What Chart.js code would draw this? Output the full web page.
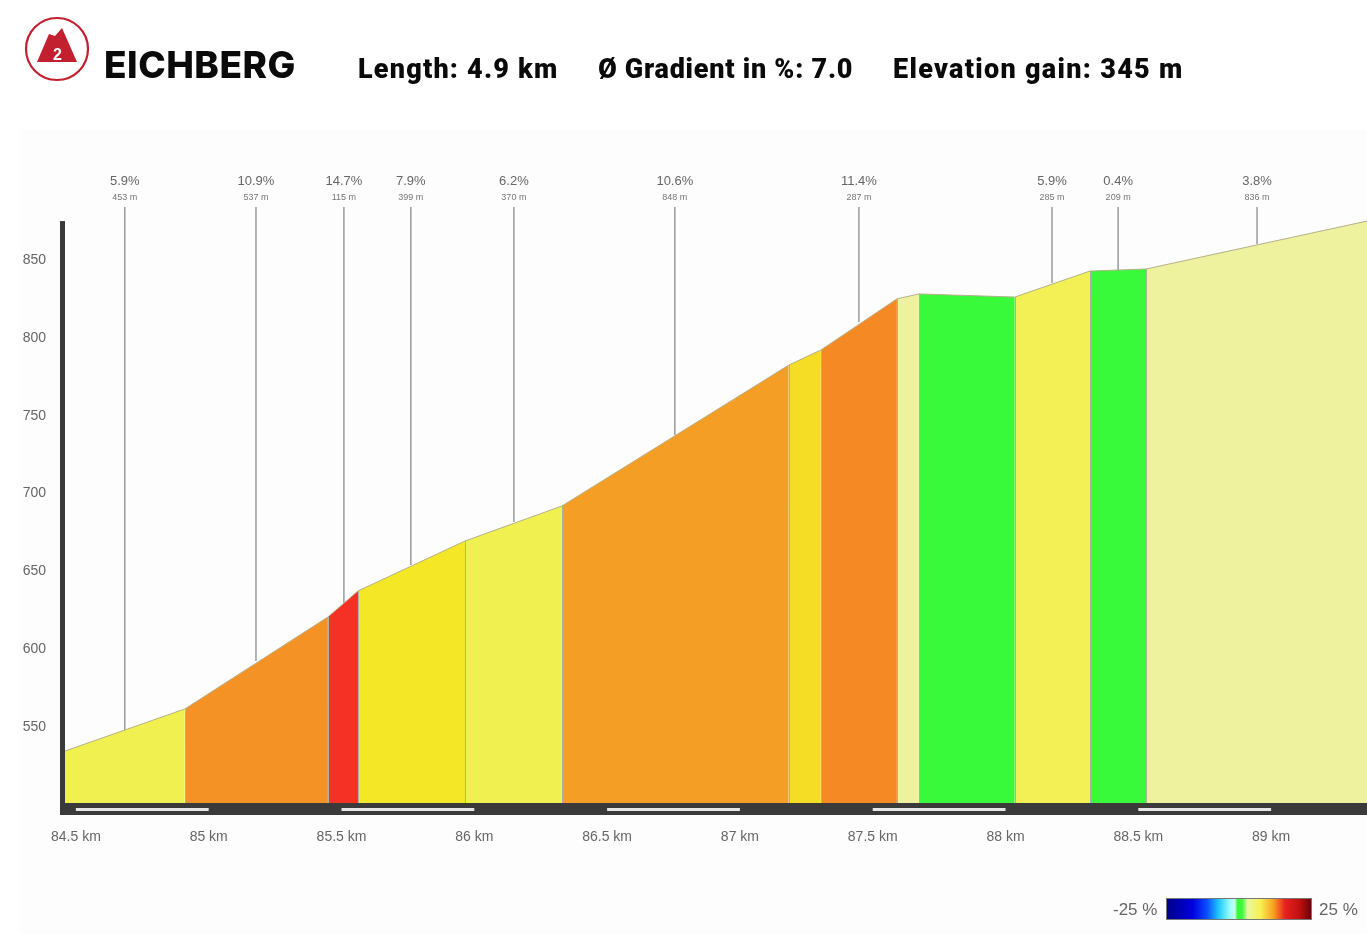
<!DOCTYPE html>
<html>
<head>
<meta charset="utf-8">
<title>Eichberg</title>
<script src="https://cdn.jsdelivr.net/npm/chart.js@4/dist/chart.umd.js"></script>
<style>
    html, body { margin: 0; padding: 0; background: #fff; }
    #page { position: relative; width: 1367px; height: 934px; overflow: hidden; }
    #panel { position: absolute; left: 20px; top: 130px; width: 1347px; height: 804px; background: #fdfdfd; }
    #chart { position: absolute; left: 0; top: 0; }
    .head { position: absolute; color: #0a0a0a; font-family: "Roboto", sans-serif; font-weight: 900; white-space: nowrap; }
    #title { left: 104px; top: 43px; font-size: 37px; line-height: 44px; font-family: "Inter", sans-serif; font-weight: 800; letter-spacing: 0.5px; }
    .stat { top: 52px; font-size: 27px; line-height: 34px; }
    #logo { position: absolute; left: 24px; top: 16px; }
    #scale { position: absolute; left: 1166px; top: 898px; width: 146px; height: 22px; box-sizing: border-box; border: 1px solid #777;
        background: linear-gradient(to right, #00008a 0%, #0000e0 18%, #0a50ff 28%, #20c8ff 36%, #a0ffff 44%, #c8fff0 47%, #38f93a 49%, #38f93a 52%, #e8f8a0 56%, #f8f050 65%, #f7a020 74%, #e82020 82%, #c01010 92%, #700008 100%); }
    .scale-label { position: absolute; top: 900px; font: 17px "Liberation Sans", sans-serif; color: #666; }
</style>
</head>
<body>
<div id="page">
    <div id="panel"></div>
    <canvas id="chart" width="1367" height="934"></canvas>
    <svg id="logo" width="66" height="66" viewBox="0 0 66 66">
        <circle cx="33" cy="33" r="31" fill="#fff" stroke="#c2202f" stroke-width="2.2"/>
        <path d="M13 46 L25 18 L31 20 L38 12 L53 46 Z" fill="#c2202f"/>
        <text x="33.5" y="44" text-anchor="middle" font-family="Liberation Sans" font-weight="700" font-size="16" fill="#fff">2</text>
    </svg>
    <div class="head" id="title">EICHBERG</div>
    <div class="head stat" style="left: 358px; letter-spacing: 1.2px">Length: 4.9 km</div>
    <div class="head stat" style="left: 598px; letter-spacing: 0.75px">Ø Gradient in %: 7.0</div>
    <div class="head stat" style="left: 893px; letter-spacing: 1.3px">Elevation gain: 345 m</div>
    <div class="scale-label" style="left: 1113px">-25 %</div>
    <div id="scale"></div>
    <div class="scale-label" style="left: 1319px">25 %</div>
</div>

<script>
// profile
const breakKm = [84.459, 84.910, 85.449, 85.562, 85.965, 86.330, 87.184, 87.305, 87.591, 87.674, 88.035, 88.318, 88.529, 89.361];
const breakElev = [534.6, 561.6, 620.7, 637.4, 669.5, 692.0, 782.5, 792.2, 825.0, 828.2, 826.2, 842.9, 844.2, 875.0];
const segmentColors = ['#f0f050', '#f49225', '#f53024', '#f3e726', '#f0f050', '#f59e25', '#f5dc25', '#f58a25', '#eef29e', '#38f93a', '#f2f055', '#38f93a', '#eef29e'];

// leader lines with their labels
const leaderKm = [84.684, 85.178, 85.509, 85.761, 86.149, 86.755, 87.448, 88.175, 88.424, 88.947];
const leaderElev = [547.4, 592.4, 629.7, 654.0, 681.7, 737.6, 810.2, 835.2, 843.6, 860.3];
const leaderGradient = ['5.9%', '10.9%', '14.7%', '7.9%', '6.2%', '10.6%', '11.4%', '5.9%', '0.4%', '3.8%'];
const leaderLength = ['453 m', '537 m', '115 m', '399 m', '370 m', '848 m', '287 m', '285 m', '209 m', '836 m'];
const leaderTop = 884;

const kmTicks = [84.5, 85, 85.5, 86, 86.5, 87, 87.5, 88, 88.5, 89];
const elevTicks = [550, 600, 650, 700, 750, 800, 850];
const stripeStart = [84.5, 85.5, 86.5, 87.5, 88.5];
const stripeEnd = [85, 86, 87, 88, 89];
const axisTopElev = 875;

const datasets = [];
segmentColors.forEach((color, i) => {
    datasets.push({
        data: [{ x: breakKm[i], y: breakElev[i] }, { x: breakKm[i + 1], y: breakElev[i + 1] }],
        borderColor: '#b5b08a',
        borderWidth: 1,
        backgroundColor: color,
        fill: 'start',
        pointRadius: 0,
    });
});
leaderKm.forEach((km, i) => {
    datasets.push({
        data: [{ x: km, y: leaderElev[i] }, { x: km, y: leaderTop }],
        borderColor: '#9a9a9a',
        borderWidth: 1.5,
        fill: false,
        pointRadius: 0,
    });
});

// separators, base band, left axis and the labels above the leaders
const profileExtras = {
    id: 'profileExtras',
    afterDatasetsDraw(chart) {
        const ctx = chart.ctx;
        const x = chart.scales.x;
        const y = chart.scales.y;
        const bottom = chart.chartArea.bottom;

        ctx.save();
        ctx.strokeStyle = '#b0b0a0';
        ctx.lineWidth = 1;
        breakKm.slice(1, -1).forEach((km, i) => {
            ctx.beginPath();
            ctx.moveTo(Math.round(x.getPixelForValue(km)) + 0.5, y.getPixelForValue(breakElev[i + 1]));
            ctx.lineTo(Math.round(x.getPixelForValue(km)) + 0.5, bottom);
            ctx.stroke();
        });

        ctx.fillStyle = '#3a3a3a';
        ctx.fillRect(60, bottom, chart.width - 60, 12);
        ctx.fillRect(60, y.getPixelForValue(axisTopElev), 5, bottom - y.getPixelForValue(axisTopElev));

        ctx.fillStyle = '#e6e6e6';
        stripeStart.forEach((km, i) => {
            const left = x.getPixelForValue(km);
            ctx.fillRect(left, bottom + 5, x.getPixelForValue(stripeEnd[i]) - left, 3);
        });

        ctx.textAlign = 'center';
        ctx.textBaseline = 'middle';
        leaderKm.forEach((km, i) => {
            const px = x.getPixelForValue(km);
            const top = y.getPixelForValue(leaderTop);
            ctx.fillStyle = '#666';
            ctx.font = '13px "Liberation Sans"';
            ctx.fillText(leaderGradient[i], px, top - 26);
            ctx.fillStyle = '#777';
            ctx.font = '9px "Liberation Sans"';
            ctx.fillText(leaderLength[i], px, top - 10);
        });
        ctx.restore();
    }
};

const config = {
    type: 'line',
    data: { datasets: datasets },
    plugins: [profileExtras],
    options: {
        responsive: false,
        animation: false,
        layout: { padding: { top: 170 } },
        elements: { line: { tension: 0 } },
        scales: {
            x: {
                type: 'linear',
                min: 84.459,
                max: 89.361,
                grid: { display: false, drawTicks: false },
                border: { display: false },
                afterBuildTicks: (axis) => { axis.ticks = kmTicks.map(v => ({ value: v })); },
                afterFit: (axis) => { axis.height = 131; },
                ticks: {
                    autoSkip: false,
                    maxRotation: 0,
                    padding: 26,
                    color: '#666',
                    font: { family: 'Liberation Sans', size: 14 },
                    callback: (v) => v + ' km',
                },
            },
            y: {
                min: 501.2,
                max: 907.8,
                grid: { display: false, drawTicks: false },
                border: { display: false },
                afterBuildTicks: (axis) => { axis.ticks = elevTicks.map(v => ({ value: v })); },
                afterFit: (axis) => { axis.width = 65; },
                ticks: {
                    autoSkip: false,
                    padding: 19,
                    color: '#666',
                    font: { family: 'Liberation Sans', size: 14 },
                },
            },
        },
        plugins: {
            legend: { display: false },
            tooltip: { enabled: false },
        },
        maintainAspectRatio: false,
    },
};

new Chart(document.getElementById('chart').getContext('2d'), config);
</script>
</body>
</html>
